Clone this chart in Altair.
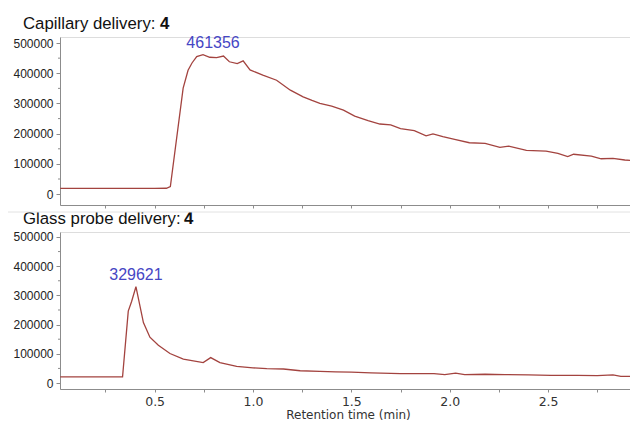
import altair as alt
import pandas as pd

# ---- data ----
cap_time = [0.02, 0.10, 0.20, 0.30, 0.40, 0.50, 0.56, 0.58, 0.645, 0.67, 0.69, 0.714, 0.746,
            0.78, 0.815, 0.85, 0.88, 0.92, 0.95, 0.985, 1.05, 1.12, 1.19, 1.255, 1.30, 1.34,
            1.40, 1.46, 1.517, 1.585, 1.645, 1.70, 1.75, 1.82, 1.88, 1.915, 1.965, 2.025,
            2.10, 2.18, 2.255, 2.30, 2.39, 2.49, 2.55, 2.60, 2.63, 2.72, 2.77, 2.83, 2.89, 2.96]
cap_signal = [19000, 19000, 19000, 19000, 19000, 19000, 19500, 25000, 351000, 410000, 434000,
              455000, 461356, 453000, 452000, 457000, 438000, 432000, 441000, 411000, 394000,
              377000, 344000, 322000, 310000, 300000, 291000, 278000, 258000, 243000, 232000,
              229000, 217000, 210000, 193000, 199000, 190000, 181000, 170000, 168000, 155000,
              159000, 145000, 142000, 135000, 124000, 132000, 126000, 117000, 118000, 113000, 110000]

glass_time = [0.02, 0.10, 0.20, 0.30, 0.337, 0.366, 0.383, 0.405, 0.443, 0.476, 0.519, 0.578,
              0.646, 0.747, 0.785, 0.832, 0.917, 1.00, 1.07, 1.155, 1.24, 1.34, 1.42, 1.50,
              1.60, 1.75, 1.92, 1.975, 2.03, 2.076, 2.18, 2.28, 2.40, 2.515, 2.65, 2.75, 2.83,
              2.87, 2.96]
glass_signal = [21000, 21000, 21000, 21000, 21000, 246000, 279000, 329621, 207000, 157000,
                129000, 101000, 82000, 70000, 87000, 70000, 57000, 52000, 49000, 48000, 42000,
                40000, 38000, 37000, 35000, 32000, 32000, 29000, 34000, 29000, 30000, 29000,
                28000, 26000, 26000, 25000, 28000, 23000, 23000]

peak_time = [0.746, 0.405]
peak_signal = [461356, 329621]
peak_label = ["461356", "329621"]

panel_titles = ["Capillary delivery:", "Glass probe delivery:"]
panel_counts = ["4", "4"]

x_ticks = [0.25, 0.5, 0.75, 1.0, 1.25, 1.5, 1.75, 2.0, 2.25, 2.5, 2.75]
y_ticks = [0, 100000, 200000, 300000, 400000, 500000]
y_minor = [50000, 150000, 250000, 350000, 450000]

LINE = "#a3433f"
BLUE = "#4646c4"
AX = "#8c8c8c"
W = 576


def panel(times, signals, k, ydom, height, bottom, count_x, peak_dx):
    df = pd.DataFrame({"s": signals, "t": times})
    xscale = alt.Scale(domain=[0.019, 2.947], nice=False, zero=False)
    yscale = alt.Scale(domain=ydom, nice=False, zero=False)
    if bottom:
        xaxis = alt.Axis(values=x_ticks, tickSize=3, labelPadding=3, grid=False,
                         labelExpr="datum.value % 0.5 == 0 ? format(datum.value, '.1f') : ''",
                         labelFont="DejaVu Sans", labelFontSize=12.5, labelColor="#333",
                         domainColor=AX, tickColor=AX, title="Retention time (min)",
                         titleFont="DejaVu Sans", titleFontSize=12, titleFontWeight="normal",
                         titleColor="#333", titlePadding=2)
    else:
        xaxis = alt.Axis(values=x_ticks, tickSize=3, labels=False, grid=False,
                         domainColor=AX, tickColor=AX, title=None)
    yaxis = alt.Axis(values=y_ticks, format="d", tickSize=4, labelPadding=3, grid=False,
                     labelFont="Liberation Sans", labelFontSize=12, labelColor="#222",
                     domainColor=AX, tickColor=AX, title=None)

    line = alt.Chart(df).mark_line(color=LINE, strokeWidth=1.3, clip=True).encode(
        x=alt.X("t:Q", scale=xscale, axis=xaxis),
        y=alt.Y("s:Q", scale=yscale, axis=yaxis),
    )
    pk = pd.DataFrame({"t": [peak_time[k]], "s": [peak_signal[k]], "lab": [peak_label[k]]})
    peak = alt.Chart(pk).mark_text(color=BLUE, font="Liberation Sans", fontSize=16,
                                   baseline="alphabetic", dy=-7, dx=peak_dx).encode(
        x=alt.X("t:Q", axis=xaxis), y=alt.Y("s:Q", axis=yaxis), text="lab:N")
    minor = alt.Chart(pd.DataFrame({"s": y_minor})).mark_rule(color=AX).encode(
        y=alt.Y("s:Q", axis=yaxis), x=alt.value(-2), x2=alt.value(0))
    tdf = pd.DataFrame({"title": [panel_titles[k]], "count": [panel_counts[k]]})
    title = alt.Chart(tdf).mark_text(align="left", baseline="alphabetic", font="Liberation Sans",
                                     fontSize=16.8, color="#111").encode(
        x=alt.value(-37), y=alt.value(-8), text="title:N")
    count = alt.Chart(tdf).mark_text(align="left", baseline="alphabetic", font="Liberation Sans",
                                     fontSize=16.8, fontWeight="bold", color="#111").encode(
        x=alt.value(count_x), y=alt.value(-8), text="count:N")
    layers = [line, minor, peak, title, count]
    if bottom:
        sep = alt.Chart(tdf).mark_rule(color="#e2e2e2").encode(
            x=alt.value(-52), x2=alt.value(578), y=alt.value(-20))
        layers.append(sep)
    return alt.layer(*layers).properties(width=W, height=height)


top = panel(cap_time, cap_signal, 0, [-36000, 520000], 168, False, 100, 10)
bot = panel(glass_time, glass_signal, 1, [-20500, 517000], 157, True, 124, 0)

chart = alt.vconcat(top, bot, spacing=27, bounds="flush").properties(
    autosize=alt.AutoSizeParams(type="none"),
    padding={"left": 52, "top": 29, "right": -6, "bottom": 385}
).configure_view(stroke="#cfcfcf").configure(background="white")

chart.save("out.html", embed_options={"renderer": "svg", "actions": False})
